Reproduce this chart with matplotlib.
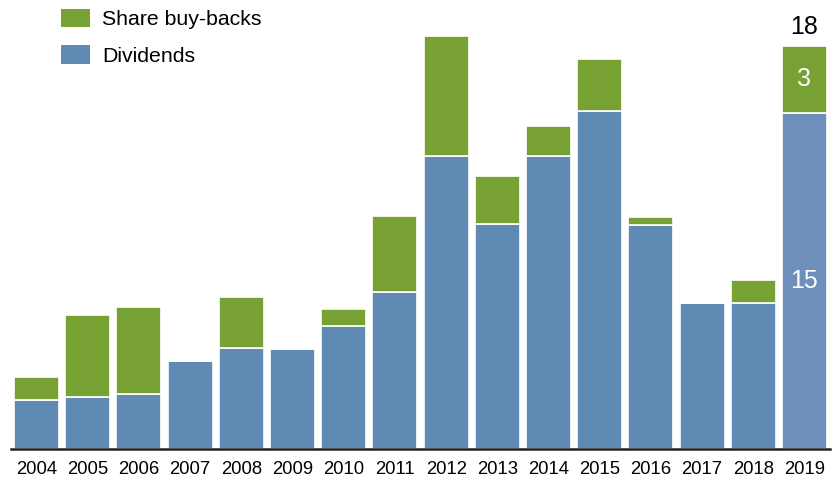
import matplotlib
matplotlib.use("Agg")
import matplotlib.pyplot as plt
from matplotlib.patches import Patch

plt.rcParams["font.family"] = ["Liberation Sans", "DejaVu Sans"]

# yearly payouts to shareholders
years = ["2004", "2005", "2006", "2007", "2008", "2009", "2010", "2011",
         "2012", "2013", "2014", "2015", "2016", "2017", "2018", "2019"]
dividends = [2.2, 2.3, 2.45, 3.95, 4.5, 4.45, 5.5, 7.0,
             13.1, 10.05, 13.1, 15.1, 10.0, 6.5, 6.5, 15]
buybacks = [1.0, 3.7, 3.9, 0, 2.3, 0, 0.75, 3.4,
            5.35, 2.15, 1.3, 2.3, 0.35, 0, 1.05, 3]

green = "#78a133"
blue = "#5f8ab4"
blue_last = "#6e8ebb"

fig = plt.figure(figsize=(8.37, 4.78), dpi=100)
ax = fig.add_axes([11 / 837, 29 / 478, 819 / 837, 448 / 478])

x = list(range(len(years)))
div_colors = [blue] * (len(years) - 1) + [blue_last]
ax.bar(x, dividends, width=0.88, color=div_colors, edgecolor="white", linewidth=1.2)
ax.bar(x, buybacks, width=0.88, bottom=dividends, color=green,
       edgecolor="white", linewidth=1.2)

# labels on the latest year
i = len(years) - 1
total = dividends[i] + buybacks[i]
ax.text(i, dividends[i] / 2, f"{dividends[i]:g}", ha="center", va="center",
        color="white", fontsize=18)
ax.text(i, dividends[i] + buybacks[i] / 2, f"{buybacks[i]:g}", ha="center",
        va="center", color="white", fontsize=18)
ax.text(i, total + 0.3, f"{total:g}", ha="center", va="bottom",
        color="black", fontsize=18)

ax.set_xlim(-0.5, len(years) - 0.5)
ax.set_ylim(0, 20)
ax.set_xticks(x)
ax.set_xticklabels(years, fontsize=13.3)
ax.tick_params(axis="x", length=0, pad=9)
ax.set_yticks([])
for side in ["top", "left", "right"]:
    ax.spines[side].set_visible(False)
ax.spines["bottom"].set_linewidth(1.8)
ax.spines["bottom"].set_color("#222222")

handles = [Patch(facecolor=green, label="Share buy-backs"),
           Patch(facecolor=blue, label="Dividends")]
fig.legend(handles=handles, loc="upper left",
           bbox_to_anchor=(61 / 837, 1 - 9 / 478), frameon=False,
           fontsize=15.3, handlelength=1.35, handleheight=0.95,
           handletextpad=0.6, labelspacing=0.75, borderpad=0, borderaxespad=0)

fig.savefig("out.png", dpi=100)
